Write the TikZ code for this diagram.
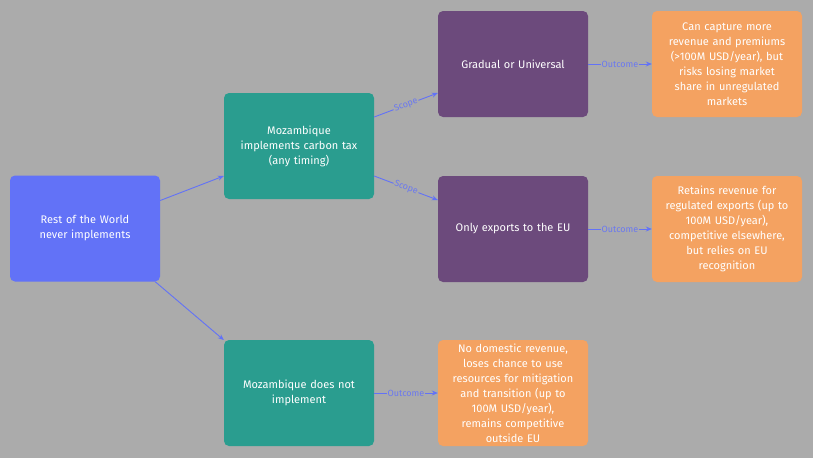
\documentclass[tikz,border=0pt]{standalone}
\usepackage{fontspec}
\setmainfont{Fira Sans}
\usetikzlibrary{arrows.meta}
\definecolor{bg}{HTML}{ABABAB}
\definecolor{cblue}{HTML}{6272F7}
\definecolor{cteal}{HTML}{2A9D8F}
\definecolor{cpurp}{HTML}{6C4A7C}
\definecolor{corg}{HTML}{F4A261}
\definecolor{lbl}{HTML}{6A78F0}
\begin{document}
\begin{tikzpicture}[x=1pt,y=-1pt,
 box/.style={rounded corners=5pt,minimum width=150pt,minimum height=106pt,text width=142pt,align=center,text=white,font=\fontsize{11}{15}\selectfont,inner sep=0pt},
 arr/.style={draw=cblue,line width=0.9pt,-{Stealth[length=6pt,width=5pt]}},
 lab/.style={fill=bg,text=lbl,font=\fontsize{9}{10}\selectfont,inner sep=1pt}]
\fill[bg] (0,0) rectangle (813,458);
\node[box,fill=cblue] (rw) at (85,228.5) {Rest of the World\\never implements};
\node[box,fill=cteal] (t1) at (299,146) {Mozambique\\implements carbon tax\\(any timing)};
\node[box,fill=cteal] (t2) at (299,393) {Mozambique does not\\implement};
\node[box,fill=cpurp] (p1) at (513,64) {Gradual or Universal};
\node[box,fill=cpurp] (p2) at (513,229) {Only exports to the EU};
\node[box,fill=corg] (o1) at (727,64) {Can capture more\\revenue and premiums\\(>100M USD/year), but\\risks losing market\\share in unregulated\\markets};
\node[box,fill=corg] (o2) at (727,229) {Retains revenue for\\regulated exports (up to\\100M USD/year),\\competitive elsewhere,\\but relies on EU\\recognition};
\node[box,fill=corg] (o3) at (513,393) {No domestic revenue,\\loses chance to use\\resources for mitigation\\and transition (up to\\100M USD/year),\\remains competitive\\outside EU};
\draw[arr] ([yshift=28pt]rw.east) -- ([yshift=-30pt]t1.west);
\draw[arr] ([xshift=-5pt]rw.south east) -- ([yshift=53pt]t2.west);
\draw[arr] ([yshift=29pt]t1.east) -- node[lab,sloped]{Scope} ([yshift=-29pt]p1.west);
\draw[arr] ([yshift=-30pt]t1.east) -- node[lab,sloped]{Scope} ([yshift=29pt]p2.west);
\draw[arr] (p1.east) -- node[lab]{Outcome} (o1.west);
\draw[arr] (p2.east) -- node[lab]{Outcome} (o2.west);
\draw[arr] (t2.east) -- node[lab]{Outcome} (o3.west);
\end{tikzpicture}
\end{document}
